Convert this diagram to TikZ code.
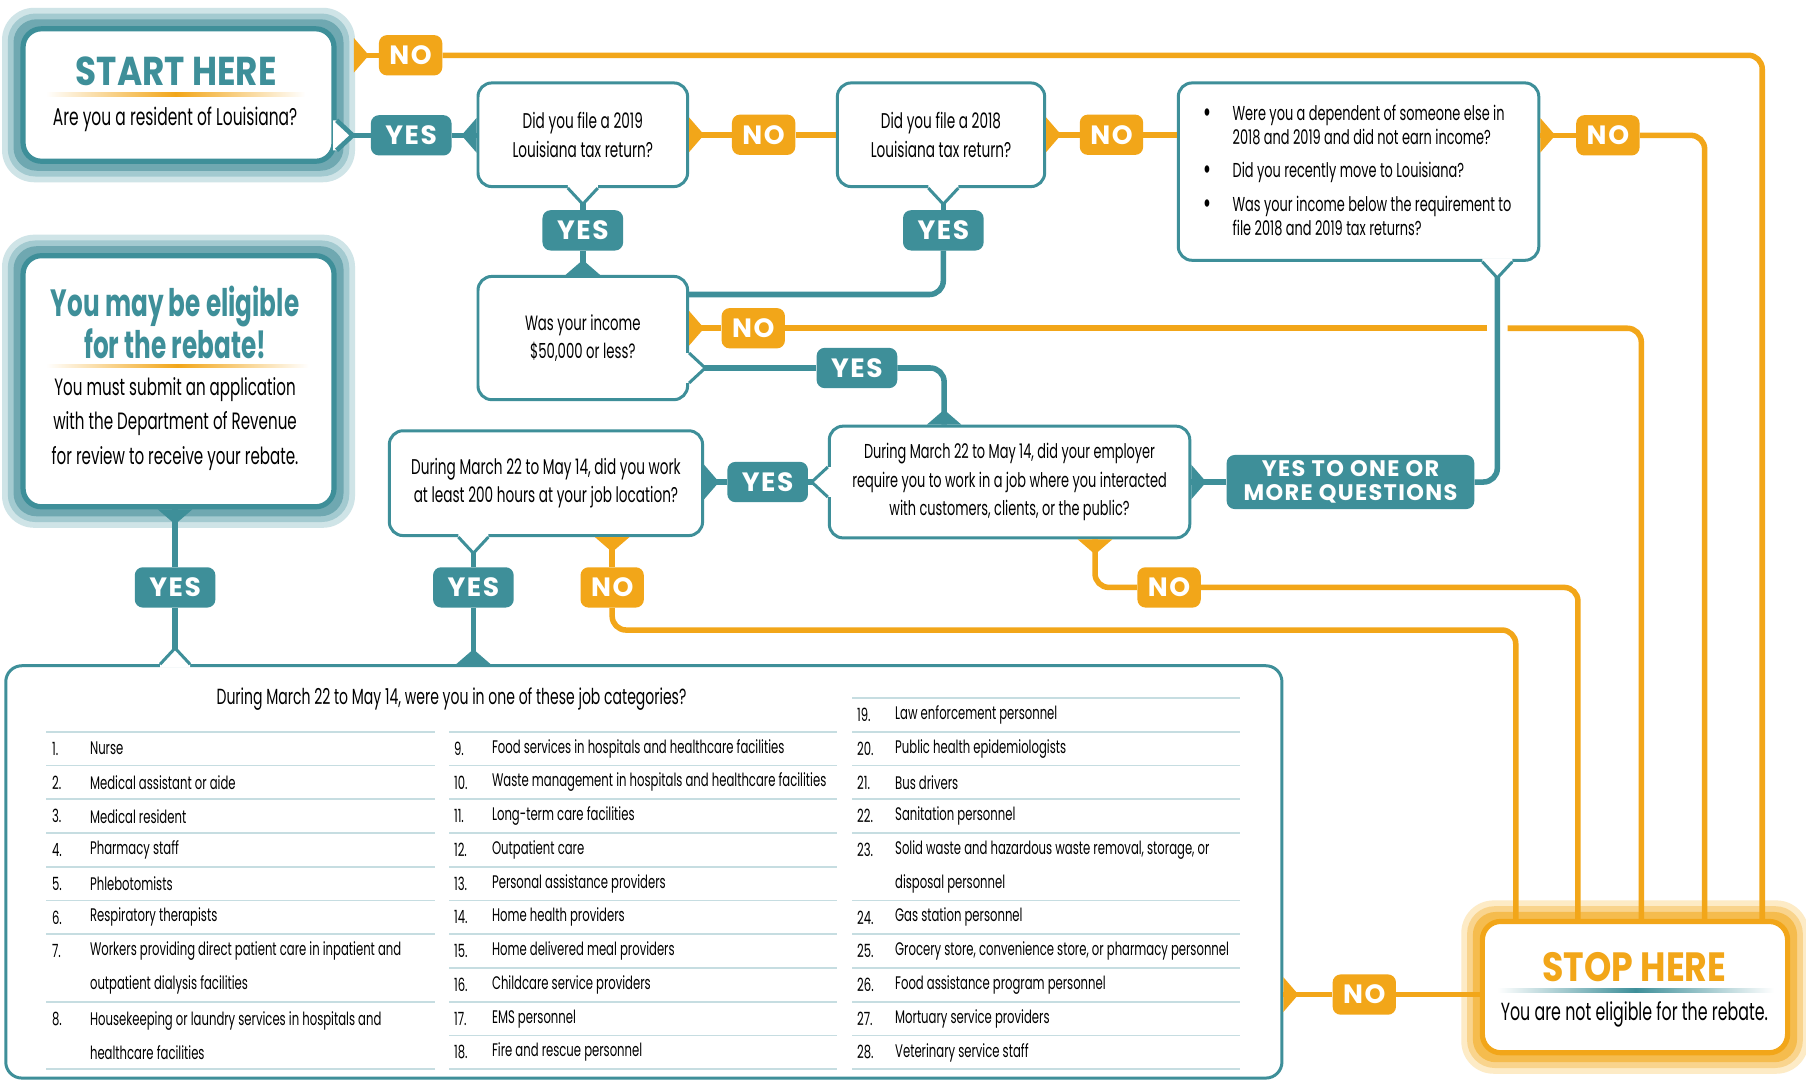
\documentclass[tikz,border=0pt]{standalone}
\usepackage{fontspec}
\setmainfont{Poppins}
\newfontfamily\qsfont[FakeStretch=0.64]{Poppins}
\newfontfamily\hdfont[FakeStretch=0.85]{Poppins}
\newfontfamily\egfont[FakeStretch=0.65]{Poppins}
\newfontfamily\lbfont[LetterSpace=6]{Poppins}
\usetikzlibrary{calc,backgrounds}
\definecolor{tealc}{HTML}{3E8F99}
\definecolor{orangec}{HTML}{F2A619}
\definecolor{sepc}{HTML}{C6DDE1}
\definecolor{halo1}{HTML}{CFE4E7}
\definecolor{halo2}{HTML}{A3CAD0}
\definecolor{halo3}{HTML}{6FA8B1}
\definecolor{haloo1}{HTML}{FDEBC6}
\definecolor{haloo2}{HTML}{F9D48D}
\definecolor{haloo3}{HTML}{F5BC4E}
\tikzset{
  qbox/.style={draw=tealc, line width=2.6pt, rounded corners=12pt, fill=white, align=center, inner sep=0pt, font=\qsfont\fontsize{18.5}{25}\selectfont},
  hbox/.style={qbox, line width=4.5pt, rounded corners=16pt},
  yeslab/.style={fill=tealc, rounded corners=7pt, text=white, minimum width=70pt, minimum height=35pt, inner sep=0pt, align=center, font=\lbfont\bfseries\fontsize{23}{23}\selectfont},
  nolab/.style={yeslab, fill=orangec, minimum width=55pt},
  yesline/.style={draw=tealc, line width=4.8pt, rounded corners=12pt},
  noline/.style={yesline, draw=orangec},
  item/.style={anchor=west, inner sep=0pt, align=left, font=\qsfont\fontsize{15.8}{29.3}\selectfont},
  sep/.style={draw=sepc, line width=1.6pt},
}
% filled pointer on a box edge
\newcommand\ptr[3]{\pgfmathsetmacro\pa{#3+90}\pgfmathsetmacro\pb{#3-90}%
  \fill[#1] ($(#2)+(\pa:15)$) -- ($(#2)+(#3:13)$) -- ($(#2)+(\pb:15)$) -- cycle;}
% outlined speech-bubble point on a box edge
\newcommand\bub[3][2.6pt]{\pgfmathsetmacro\pa{#3+90}\pgfmathsetmacro\pb{#3-90}%
  \fill[white] ($(#2)+(\pa:13)+(#3:-3)$) -- ($(#2)+(\pa:13)$) -- ($(#2)+(#3:14)$) -- ($(#2)+(\pb:13)$) -- ($(#2)+(\pb:13)+(#3:-3)$) -- cycle;
  \draw[tealc, line width=#1, line join=miter] ($(#2)+(\pa:13)$) -- ($(#2)+(#3:14)$) -- ($(#2)+(\pb:13)$);}
\newcommand\halo[4]{%
  \fill[#2, rounded corners=28pt] ($(#1.north west)+(-16,-16)$) rectangle ($(#1.south east)+(16,16)$);
  \fill[#3, rounded corners=24pt] ($(#1.north west)+(-11,-11)$) rectangle ($(#1.south east)+(11,11)$);
  \fill[#4, rounded corners=20pt] ($(#1.north west)+(-6,-6)$) rectangle ($(#1.south east)+(6,6)$);}
\newcommand\bigdot{\raisebox{-2pt}{\fontsize{26}{21}\selectfont\textbullet}}
\begin{document}
\begin{tikzpicture}[x=1pt, y=-1pt, line join=round]
\useasboundingbox (0,0) rectangle (1568,938.5);
% boxes
\node[hbox, minimum width=270pt, minimum height=115pt] (start) at (155,82.5) {};
\node[hbox, minimum width=270pt, minimum height=218pt] (elig) at (155,331) {};
\node[hbox, draw=orangec, minimum width=265pt, minimum height=114pt] (stop) at (1419.5,857) {};
\node[qbox, minimum width=182pt, minimum height=90pt] (q19) at (506,117) {Did you file a 2019\\Louisiana tax return?};
\node[qbox, minimum width=180pt, minimum height=90pt] (q18) at (817,117) {Did you file a 2018\\Louisiana tax return?};
\node[qbox, minimum width=313pt, minimum height=154pt] (dep) at (1179.5,149) {};
\node[qbox, minimum width=182pt, minimum height=107pt, font=\qsfont\fontsize{18}{24}\selectfont] (income) at (506,293.5) {Was your income\\\$50,000 or less?};
\node[qbox, minimum width=313pt, minimum height=97pt, font=\qsfont\fontsize{17.5}{24.5}\selectfont] (emp) at (876.5,418.5) {During March 22 to May 14, did your employer\\require you to work in a job where you interacted\\with customers, clients, or the public?};
\node[qbox, minimum width=272pt, minimum height=91pt] (hours) at (474,419.5) {During March 22 to May 14, did you work\\at least 200 hours at your job location?};
\node[qbox, rounded corners=14pt, minimum width=1108pt, minimum height=358pt] (jobs) at (559,757) {};
\begin{scope}[on background layer]
\fill[white] (0,0) rectangle (1568,938.5);
\halo{start}{halo1}{halo2}{halo3}
\halo{elig}{halo1}{halo2}{halo3}
\halo{stop}{haloo1}{haloo2}{haloo3}
\end{scope}
% labels
\node[nolab] (no1) at (356.5,48) {NO};
\node[yeslab] (yes1) at (357,117.5) {YES};
\node[nolab] (no2) at (663,117) {NO};
\node[nolab] (no3) at (965,117) {NO};
\node[nolab] (no4) at (1396,117.5) {NO};
\node[yeslab] (yes2) at (506,200) {YES};
\node[yeslab] (yes3) at (819,200) {YES};
\node[nolab] (no5) at (654,285) {NO};
\node[yeslab] (yes4) at (744,319.5) {YES};
\node[yeslab] (yes5) at (666.5,418.5) {YES};
\node[yeslab, minimum width=215pt, minimum height=47pt, font=\lbfont\bfseries\fontsize{19.5}{21}\selectfont] (yesm) at (1172.5,418.5) {YES TO ONE OR\\MORE QUESTIONS};
\node[yeslab] (yes7) at (152,510) {YES};
\node[yeslab] (yes6) at (411,510) {YES};
\node[nolab] (no7) at (531.5,510) {NO};
\node[nolab] (no6) at (1015,510) {NO};
\node[nolab] (no8) at (1184.5,863.5) {NO};
\foreach \n/\x in {1/1316,2/1370,3/1425,4/1480,5/1530} \coordinate (s\n) at (\x,800);
\coordinate (h1) at ($(start.east |- no1)+(15,0)$);
\coordinate (depout) at (dep.south -| 1300,0);
\coordinate (empin) at ($(emp.north west)+(101,0)$);
\coordinate (empout) at ($(emp.south west)+(232,0)$);
% yes connectors
\draw[yesline] (start.east |- yes1) -- (yes1.west);
\draw[yesline] (yes1.east) -- (q19.west |- yes1);
\draw[yesline] (q19.south) -- (yes2.north);
\draw[yesline] (yes2.south) -- (income.north);
\draw[yesline] (q18.south -| yes3) -- (yes3.north);
\draw[yesline] (yes3.south) |- ($(income.north east)+(0,17)$);
\draw[yesline] (income.east |- yes4) -- (yes4.west);
\draw[yesline] (yes4.east) -| (empin);
\draw[yesline] (depout) |- (yesm.east);
\draw[yesline] (yesm.west) -- (emp.east);
\draw[yesline] (emp.west) -- (yes5.east);
\draw[yesline] (yes5.west) -- (hours.east |- yes5);
\draw[yesline] (hours.south -| yes6) -- (yes6.north);
\draw[yesline] (yes6.south) -- (jobs.north -| yes6);
\draw[yesline] (elig.south -| yes7) -- (yes7.north);
\draw[yesline] (yes7.south) -- (jobs.north -| yes7);
% no connectors
\draw[noline] (h1) -- (no1.west);
\draw[noline] (no1.east) -| (s5);
\draw[noline] (q19.east |- no2) -- (no2.west);
\draw[noline] (no2.east) -- (q18.west |- no2);
\draw[noline] (q18.east |- no3) -- (no3.west);
\draw[noline] (no3.east) -- (dep.west |- no3);
\draw[noline] (dep.east |- no4) -- (no4.west);
\draw[noline] (no4.east) -| (s4);
\draw[noline] (income.east |- no5) -- (no5.west);
\draw[noline] (no5.east) -- ($(depout |- no5)+(-9,0)$);
\draw[noline] ($(depout |- no5)+(9,0)$) -| (s3);
\draw[noline] (empout) |- (no6.west);
\draw[noline] (no6.east) -| (s2);
\draw[noline] (hours.south -| no7) -- (no7.north);
\draw[noline] (no7.south) |- ($(s1)+(0,-253)$) -- (s1);
\draw[noline] (jobs.east |- no8) -- (no8.west);
\draw[noline] (no8.east) -- (stop.west |- no8);
% pointers
\ptr{orangec}{h1}{0}
\ptr{tealc}{q19.west |- yes1}{180}
\ptr{orangec}{q19.east |- no2}{0}
\ptr{orangec}{q18.east |- no3}{0}
\ptr{orangec}{dep.east |- no4}{0}
\ptr{tealc}{income.north}{270}
\ptr{orangec}{income.east |- no5}{0}
\ptr{tealc}{empin}{270}
\ptr{tealc}{emp.east}{0}
\ptr{orangec}{empout}{90}
\ptr{tealc}{hours.east |- yes5}{0}
\ptr{orangec}{hours.south -| no7}{90}
\ptr{tealc}{jobs.north -| yes6}{270}
\ptr{tealc}{elig.south -| yes7}{90}
\ptr{orangec}{jobs.east |- no8}{0}
\bub[4pt]{start.east |- yes1}{0}
\bub{q19.south}{90}
\bub{q18.south -| yes3}{90}
\bub{income.east |- yes4}{0}
\bub{depout}{90}
\bub{emp.west}{180}
\bub{hours.south -| yes6}{90}
\bub{jobs.north -| yes7}{270}
% texts
\node[text=tealc, font=\hdfont\bfseries\fontsize{35}{35}\selectfont] (starttitle) at (153,62) {START HERE};
\shade[left color=white, right color=white, middle color=orangec] (40,80.5) rectangle (265,83.5);
\node[font=\qsfont\fontsize{21}{21}\selectfont] (starttext) at (152,104) {Are you a resident of Louisiana?};
\node[text=tealc, align=center, font=\egfont\bfseries\fontsize{33}{34}\selectfont] (eligtitle) at (152,280) {You may be eligible\\for the rebate!};
\shade[left color=white, right color=white, middle color=orangec] (40,316.5) rectangle (268,319.5);
\node[align=center, font=\qsfont\fontsize{20.5}{30}\selectfont] (eligtext) at (152,368) {You must submit an application\\with the Department of Revenue\\for review to receive your rebate.};
\node[text=orangec, font=\hdfont\bfseries\fontsize{35.5}{35}\selectfont] (stoptitle) at (1419,840) {STOP HERE};
\shade[left color=white, right color=white, middle color=tealc] (1300,858.5) rectangle (1540,861.5);
\node[font=\qsfont\fontsize{21.5}{21}\selectfont] (stoptext) at (1419,881) {You are not eligible for the rebate.};
\node[anchor=west, inner sep=0pt, font=\qsfont\fontsize{17.5}{21}\selectfont] (deptext) at (1045,150) {\begin{tabular}{@{}p{25pt}@{}l@{}}
\bigdot & Were you a dependent of someone else in\\
 & 2018 and 2019 and did not earn income?\\[8pt]
\bigdot & Did you recently move to Louisiana?\\[8pt]
\bigdot & Was your income below the requirement to\\
 & file 2018 and 2019 tax returns?
\end{tabular}};
\node[font=\qsfont\fontsize{19}{19}\selectfont] (jobstitle) at (392,607) {During March 22 to May 14, were you in one of these job categories?};
% job list
\foreach \k in {0,1,2,3,4,5,6,8,10} \draw[sep] (40,635.35+29.3*\k) -- (378,635.35+29.3*\k);
\foreach \k in {0,...,10} \draw[sep] (390,635.35+29.3*\k) -- (727,635.35+29.3*\k);
\foreach \k in {-1,0,1,2,3,5,6,7,8,9,10} \draw[sep] (740,635.35+29.3*\k) -- (1077,635.35+29.3*\k);
\foreach \x/\n/\t/\r/\k in {45/1/Nurse/0/1, 45/2/Medical assistant or aide/1/1, 45/3/Medical resident/2/1, 45/4/Pharmacy staff/3/1, 45/5/Phlebotomists/4/1, 45/6/Respiratory therapists/5/1, 45/7/{Workers providing direct patient care in inpatient and\\outpatient dialysis facilities}/6/2, 45/8/{Housekeeping or laundry services in hospitals and\\healthcare facilities}/8/2,
  394/9/Food services in hospitals and healthcare facilities/0/1, 394/10/Waste management in hospitals and healthcare facilities/1/1, 394/11/Long-term care facilities/2/1, 394/12/Outpatient care/3/1, 394/13/Personal assistance providers/4/1, 394/14/Home health providers/5/1, 394/15/Home delivered meal providers/6/1, 394/16/Childcare service providers/7/1, 394/17/EMS personnel/8/1, 394/18/Fire and rescue personnel/9/1,
  744/19/Law enforcement personnel/-1/1, 744/20/Public health epidemiologists/0/1, 744/21/Bus drivers/1/1, 744/22/Sanitation personnel/2/1, 744/23/{Solid waste and hazardous waste removal, storage, or\\disposal personnel}/3/2, 744/24/Gas station personnel/5/1, 744/25/{Grocery store, convenience store, or pharmacy personnel}/6/1, 744/26/Food assistance program personnel/7/1, 744/27/Mortuary service providers/8/1, 744/28/Veterinary service staff/9/1}{
  \node[item] (n\n) at (\x,650+29.3*\r) {\n.};
  \node[item] (t\n) at (\x+33,650+29.3*\r+14.65*\k-14.65) {\t};
}
\end{tikzpicture}
\end{document}
